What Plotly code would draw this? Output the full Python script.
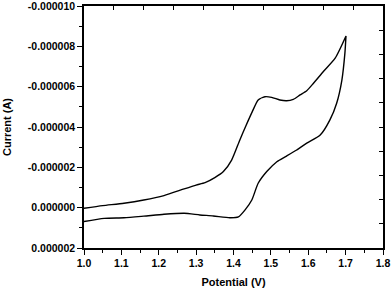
import plotly.graph_objects as go

# forward scan 1.0 -> 1.7 V, current in uA
fwd_v = [1.00, 1.05, 1.107, 1.16, 1.214, 1.268, 1.30, 1.324, 1.35, 1.373, 1.395,
         1.417, 1.433, 1.450, 1.466, 1.484, 1.502, 1.524, 1.542, 1.56, 1.578,
         1.596, 1.614, 1.64, 1.672, 1.701]
fwd_i = [0.03, -0.10, -0.22, -0.38, -0.60, -0.93, -1.12, -1.24, -1.49, -1.79, -2.36,
         -3.36, -4.05, -4.75, -5.34, -5.50, -5.47, -5.34, -5.30, -5.37, -5.59,
         -5.80, -6.17, -6.74, -7.41, -8.51]
# reverse scan 1.7 -> 1.0 V
rev_v = [1.701, 1.698, 1.69, 1.676, 1.658, 1.632, 1.596, 1.569, 1.542, 1.516, 1.489,
         1.466, 1.449, 1.431, 1.413, 1.39, 1.346, 1.31, 1.268, 1.214, 1.16, 1.107,
         1.054, 1.00]
rev_i = [-8.51, -7.65, -6.33, -5.18, -4.35, -3.60, -3.20, -2.86, -2.56, -2.28, -1.79,
         -1.21, -0.38, 0.11, 0.46, 0.50, 0.41, 0.36, 0.28, 0.33, 0.42, 0.50,
         0.53, 0.69]

x_ticks = [1.0, 1.1, 1.2, 1.3, 1.4, 1.5, 1.6, 1.7, 1.8]
y_ticks = [-10e-6, -8e-6, -6e-6, -4e-6, -2e-6, 0, 2e-6]
y_labels = ['-0.000010', '-0.000008', '-0.000006', '-0.000004', '-0.000002', '0.000000', '0.000002']

pot = fwd_v + rev_v
cur = [v * 1e-6 for v in fwd_i + rev_i]

tick_fnt = dict(family='Liberation Sans, Arial', size=10.5, color='black', weight='bold')
title_fnt = dict(family='Liberation Sans, Arial', size=11, color='black', weight='bold')

fig = go.Figure()
fig.add_trace(go.Scatter(x=pot, y=cur, mode='lines', line=dict(color='black', width=1.4, shape='spline', smoothing=0.6),
                         showlegend=False, hoverinfo='skip'))
fig.add_trace(go.Scatter(x=[1.0], y=[0], xaxis='x2', yaxis='y2', mode='markers', opacity=0,
                         showlegend=False, hoverinfo='skip'))

xr = [1.0, 1.8]
yr = [2e-6, -10e-6]
fig.update_layout(
    width=392, height=288,
    margin=dict(l=84, r=9, t=6, b=40, autoexpand=False),
    paper_bgcolor='white', plot_bgcolor='white',
    xaxis=dict(range=xr, tickmode='array', tickvals=x_ticks, ticktext=['%.1f' % v for v in x_ticks],
               ticks='outside', ticklen=5, tickwidth=1, tickcolor='black', ticklabeloverflow='allow',
               minor=dict(ticks='outside', dtick=0.05, tick0=1.0, ticklen=3, tickcolor='black'),
               showline=True, linecolor='black', linewidth=1.5, showgrid=False, zeroline=False,
               automargin=False,
               tickfont=tick_fnt, title=dict(text='Potential (V)', font=title_fnt, standoff=15)),
    yaxis=dict(range=yr, tickmode='array', tickvals=y_ticks, ticktext=y_labels,
               ticks='outside', ticklen=5, tickwidth=1, tickcolor='black', ticklabeloverflow='allow',
               minor=dict(ticks='outside', dtick=1e-6, tick0=0, ticklen=3, tickcolor='black'),
               showline=True, linecolor='black', linewidth=1.5, showgrid=False, zeroline=False,
               automargin=False,
               tickfont=tick_fnt, title=dict(text='Current (A)', font=title_fnt, standoff=14)),
    # mirror axes: ten equal divisions, ticks pointing inwards
    xaxis2=dict(range=xr, overlaying='x', side='top', anchor='y', showticklabels=False,
                tickmode='linear', tick0=1.0, dtick=0.08, ticks='inside', ticklen=4, tickcolor='black',
                showline=True, linecolor='black', linewidth=1.5, showgrid=False, zeroline=False,
                automargin=False),
    yaxis2=dict(range=yr, overlaying='y', side='right', anchor='x', showticklabels=False,
                tickmode='linear', tick0=2e-6, dtick=1.2e-6, ticks='inside', ticklen=4, tickcolor='black',
                showline=True, linecolor='black', linewidth=1.5, showgrid=False, zeroline=False,
                automargin=False),
)

fig.write_html("out.html", config={'displayModeBar': False},
               post_script="document.body.style.margin='0';")
